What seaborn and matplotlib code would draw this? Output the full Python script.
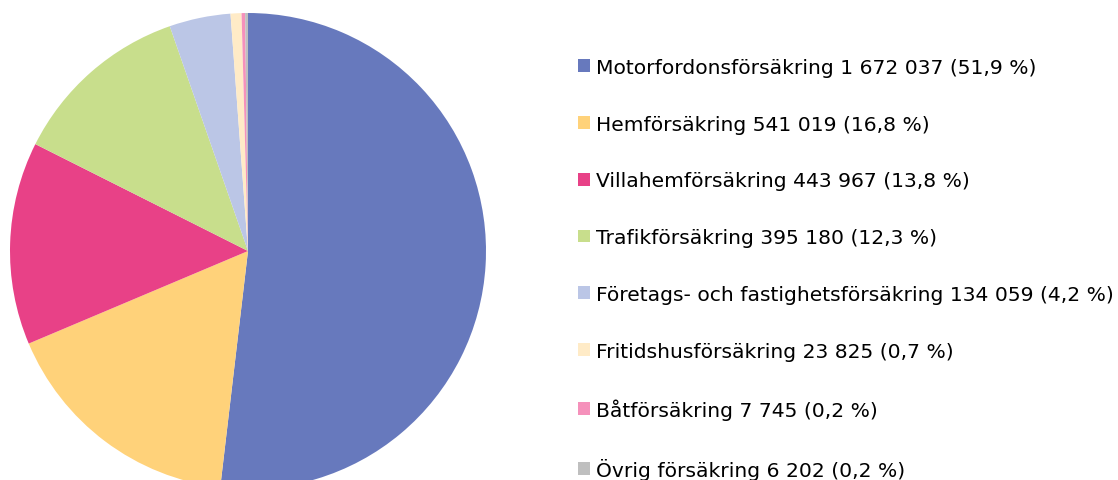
import matplotlib
matplotlib.use('Agg')
import matplotlib.pyplot as plt
import seaborn as sns
from matplotlib.patches import Patch

# Data
categories = ['Motorfordonsförsäkring', 'Hemförsäkring', 'Villahemförsäkring', 'Trafikförsäkring',
              'Företags- och fastighetsförsäkring', 'Fritidshusförsäkring', 'Båtförsäkring', 'Övrig försäkring']
values = [1672037, 541019, 443967, 395180, 134059, 23825, 7745, 6202]
value_labels = ['1 672 037', '541 019', '443 967', '395 180', '134 059', '23 825', '7 745', '6 202']
pct_labels = ['51,9 %', '16,8 %', '13,8 %', '12,3 %', '4,2 %', '0,7 %', '0,2 %', '0,2 %']
colors = ['#6779BD', '#FFD27A', '#E84187', '#C8DE8C', '#BBC6E6', '#FFEBC7', '#F591BB', '#BFBFBF']

sns.set_style('white')
plt.rcParams['font.family'] = ['DejaVu Sans']

fig = plt.figure(figsize=(11.18, 4.81), dpi=100)
W, H = 1118, 481
cx, cy, r = 248, 252, 238
ax = fig.add_axes([(cx - r) / W, (H - cy - r) / H, 2 * r / W, 2 * r / H])
ax.pie(values, colors=colors, startangle=90, counterclock=False, radius=1,
       wedgeprops=dict(linewidth=0))
ax.set_xlim(-1, 1)
ax.set_ylim(-1, 1)
ax.set_aspect('equal')
ax.axis('off')

# Legend
handles = [Patch(facecolor=c, edgecolor='none') for c in colors]
labels = [f'{c} {v} ({p})' for c, v, p in zip(categories, value_labels, pct_labels)]
fig.legend(handles, labels, loc='upper left', bbox_to_anchor=(578 / W, 1 - 59 / H),
           frameon=False, fontsize=14.6, labelcolor='black', handlelength=0.6, handleheight=0.6,
           handletextpad=0.3, labelspacing=1.86, borderaxespad=0, borderpad=0)

fig.savefig('out.png', dpi=100)
